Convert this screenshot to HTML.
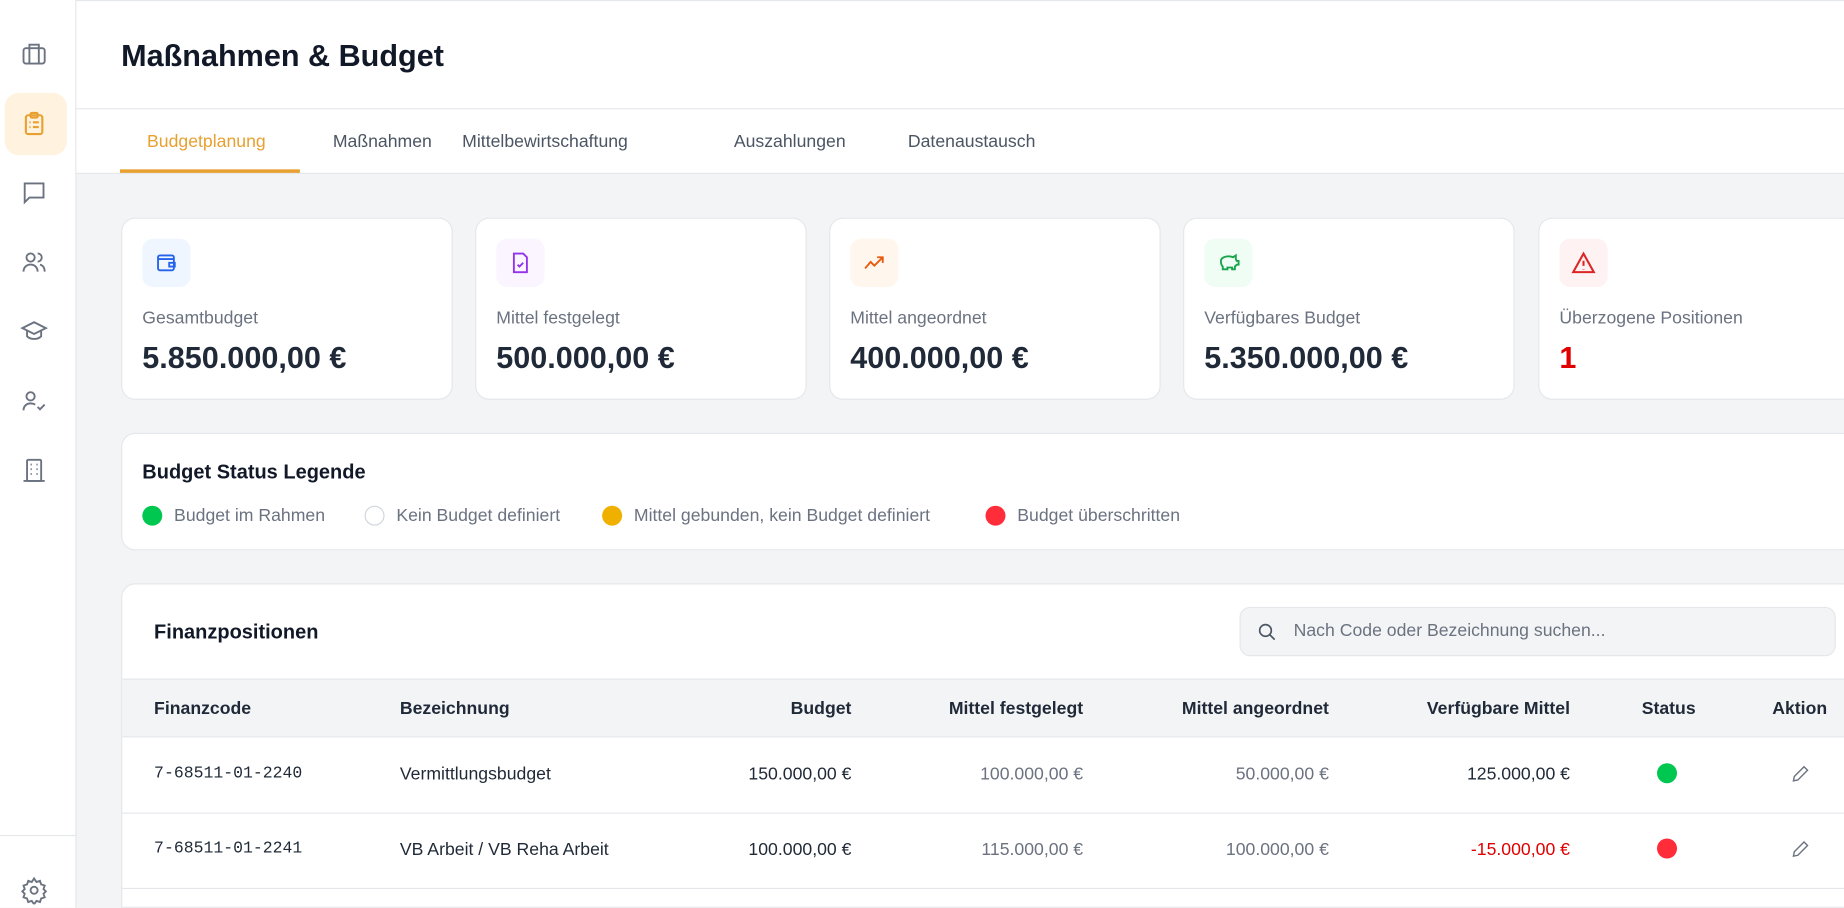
<!DOCTYPE html>
<html><head><meta charset="utf-8"><style>
*{box-sizing:border-box;margin:0;padding:0}
html,body{width:1844px;height:908px;overflow:hidden;background:#f3f4f6;font-family:"Liberation Sans",sans-serif}
#s{position:absolute;left:0;top:0;width:1568px;height:772px;transform:scale(1.17602);transform-origin:0 0;background:#f3f4f6;overflow:hidden}
.a{position:absolute}
.side{left:0;top:0;width:65px;height:772px;background:#fff;border-right:1px solid #e5e7eb}
.ic{position:absolute;left:17px;width:24px;height:24px}
.hdr{left:65px;top:0;width:1503px;height:147px;background:#fff;border-top:1px solid #e5e7eb}
.card{background:#fff;border:1px solid #e5e7eb;border-radius:12px}
.lab{font-size:15px;color:#6b7280}
.val{font-size:26px;font-weight:bold;color:#1f2937}
.ib{position:absolute;left:17px;top:17px;width:41px;height:41px;border-radius:9px}
.th{font-size:15px;font-weight:bold;color:#1f2937;position:absolute;top:594px}
.td{font-size:15px;position:absolute;color:#1f2937}
.r{text-align:right}
.g{color:#6b7280}
.dot{position:absolute;width:17px;height:17px;border-radius:50%}
</style></head><body><div id="s">
<div class="a side">
<svg class="ic" style="top:34px" viewBox="0 0 24 24" fill="none" stroke="#6b7280" stroke-width="1.6"><rect x="3" y="7" width="18" height="13" rx="2"/><path d="M8 7V4h8v3M8 7v13M16 7v13"/></svg>
<div class="a" style="left:4px;top:79px;width:53px;height:53px;background:#fff3e0;border-radius:12px"></div>
<svg class="ic" style="top:93px" viewBox="0 0 24 24" fill="none" stroke="#e8a030" stroke-width="1.8"><rect x="5" y="5" width="14" height="16" rx="2"/><rect x="9" y="3" width="6" height="4" rx="1"/><path d="M8 11h1M11 11h5M8 15h1M11 15h5"/></svg>
<svg class="ic" style="top:152px" viewBox="0 0 24 24" fill="none" stroke="#6b7280" stroke-width="1.6"><path d="M4 4h16v12H8l-4 4z"/></svg>
<svg class="ic" style="top:211px" viewBox="0 0 24 24" fill="none" stroke="#6b7280" stroke-width="1.6"><circle cx="9" cy="8" r="3.5"/><path d="M3 20c0-4 3-6 6-6s6 2 6 6M15 4.5a3.5 3.5 0 010 7M17 14c2 .5 4 2 4 6"/></svg>
<svg class="ic" style="top:270px" viewBox="0 0 24 24" fill="none" stroke="#6b7280" stroke-width="1.6"><path d="M2 9l10-5 10 5-10 5zM6 11v5c3 3 9 3 12 0v-5"/></svg>
<svg class="ic" style="top:329px" viewBox="0 0 24 24" fill="none" stroke="#6b7280" stroke-width="1.6"><circle cx="9" cy="8" r="3.5"/><path d="M3 20c0-4 3-6 6-6 2 0 3 .5 4 1M15 17l2 2 4-4"/></svg>
<svg class="ic" style="top:388px" viewBox="0 0 24 24" fill="none" stroke="#6b7280" stroke-width="1.6"><rect x="6" y="3" width="12" height="18" rx="1"/><path d="M3 21h18M9 7h1M14 7h1M9 11h1M14 11h1M9 15h1M14 15h1"/></svg>
<div class="a" style="left:0;top:710px;width:65px;border-top:1px solid #e5e7eb"></div>
<svg class="ic" style="top:745px" viewBox="0 0 24 24" fill="none" stroke="#6b7280" stroke-width="1.6"><circle cx="12" cy="12" r="3"/><path d="M12 2l2 3 3-1 1 3 3 1-1 3 2 2-2 2 1 3-3 1-1 3-3-1-2 3-2-3-3 1-1-3-3-1 1-3-2-2 2-2-1-3 3-1 1-3 3 1z"/></svg>
</div>
<div class="a hdr">
<div class="a" style="left:38px;top:31px;font-size:26px;font-weight:bold;color:#111827">Maßnahmen &amp; Budget</div>
<div class="a" style="left:0;top:91px;width:1503px;border-top:1px solid #e5e7eb"></div>
<div class="a" style="left:0;top:146px;width:1503px;border-top:1px solid #e5e7eb"></div>
<div class="a" style="left:60px;top:111px;font-size:15px;color:#e8a030">Budgetplanung</div>
<div class="a" style="left:37px;top:143px;width:153px;height:3px;background:#e8a030"></div>
<div class="a" style="left:218px;top:111px;font-size:15px;color:#4b5563">Maßnahmen</div>
<div class="a" style="left:328px;top:111px;font-size:15px;color:#4b5563">Mittelbewirtschaftung</div>
<div class="a" style="left:559px;top:111px;font-size:15px;color:#4b5563">Auszahlungen</div>
<div class="a" style="left:707px;top:111px;font-size:15px;color:#4b5563">Datenaustausch</div>
</div>

<div class="a card" style="left:103px;top:185px;width:282px;height:155px"><div class="ib" style="background:#eff6ff"><svg style="position:absolute;left:11px;top:11px" width="19" height="19" viewBox="0 0 24 24" fill="none" stroke="#2563eb" stroke-width="2"><rect x="3" y="4" width="17" height="16" rx="2"/><path d="M3 8h17M15 12h6v4h-6z"/></svg></div><div class="a lab" style="left:17px;top:76px">Gesamtbudget</div><div class="a val" style="left:17px;top:103px">5.850.000,00 €</div></div>
<div class="a card" style="left:404px;top:185px;width:282px;height:155px"><div class="ib" style="background:#faf5ff"><svg style="position:absolute;left:11px;top:11px" width="19" height="19" viewBox="0 0 24 24" fill="none" stroke="#9333ea" stroke-width="2"><path d="M5 2h10l4 4v16H5z"/><path d="M9 14l2 2 4-4"/></svg></div><div class="a lab" style="left:17px;top:76px">Mittel festgelegt</div><div class="a val" style="left:17px;top:103px">500.000,00 €</div></div>
<div class="a card" style="left:705px;top:185px;width:282px;height:155px"><div class="ib" style="background:#fff7ed"><svg style="position:absolute;left:10px;top:11px" width="21" height="19" viewBox="0 0 24 24" fill="none" stroke="#ea580c" stroke-width="2"><path d="M2 18l6-7 4 4 9-9M15 6h6v6"/></svg></div><div class="a lab" style="left:17px;top:76px">Mittel angeordnet</div><div class="a val" style="left:17px;top:103px">400.000,00 €</div></div>
<div class="a card" style="left:1006px;top:185px;width:282px;height:155px"><div class="ib" style="background:#f0fdf4"><svg style="position:absolute;left:10px;top:11px" width="21" height="19" viewBox="0 0 24 24" fill="none" stroke="#16a34a" stroke-width="2"><path d="M4 10c0-3 4-5 8-5 2 0 4 .5 5 1l3-2v4l1 2h2v4h-2l-2 2v3h-3v-2h-5v2H6v-3c-1-1-2-3-2-6z"/></svg></div><div class="a lab" style="left:17px;top:76px">Verfügbares Budget</div><div class="a val" style="left:17px;top:103px">5.350.000,00 €</div></div>
<div class="a card" style="left:1308px;top:185px;width:270px;height:155px"><div class="ib" style="background:#fef2f2"><svg style="position:absolute;left:10px;top:10px" width="21" height="21" viewBox="0 0 24 24" fill="none" stroke="#dc2626" stroke-width="2"><path d="M12 3L2 21h20z"/><path d="M12 10v5M12 18v.5"/></svg></div><div class="a lab" style="left:17px;top:76px">Überzogene Positionen</div><div class="a val" style="left:17px;top:103px;color:#e00000">1</div></div>

<div class="a card" style="left:103px;top:368px;width:1475px;height:100px">
<div class="a" style="left:17px;top:23px;font-size:17px;font-weight:bold;color:#111827">Budget Status Legende</div>
<div class="dot" style="left:17px;top:61px;background:#00c74f"></div><div class="a lab" style="left:44px;top:61px">Budget im Rahmen</div>
<div class="dot" style="left:206px;top:61px;border:1px solid #d1d5db;background:#fff"></div><div class="a lab" style="left:233px;top:61px">Kein Budget definiert</div>
<div class="dot" style="left:408px;top:61px;background:#f0b000"></div><div class="a lab" style="left:435px;top:61px">Mittel gebunden, kein Budget definiert</div>
<div class="dot" style="left:734px;top:61px;background:#ff2d3a"></div><div class="a lab" style="left:761px;top:61px">Budget überschritten</div>
</div>

<div class="a card" style="left:103px;top:496px;width:1475px;height:276px;border-bottom-left-radius:0;border-bottom-right-radius:0"></div>
<div class="a" style="left:131px;top:528px;font-size:17px;font-weight:bold;color:#111827">Finanzpositionen</div>
<div class="a" style="left:1054px;top:516px;width:507px;height:42px;background:#f3f4f6;border:1px solid #e5e7eb;border-radius:9px"><svg style="position:absolute;left:14px;top:12px" width="17" height="17" viewBox="0 0 24 24" fill="none" stroke="#4b5563" stroke-width="2"><circle cx="10" cy="10" r="7"/><path d="M15 15l6 6"/></svg><div class="a lab" style="left:45px;top:11px;color:#6b7280">Nach Code oder Bezeichnung suchen...</div></div>
<div class="a" style="left:104px;top:577px;width:1464px;height:50px;background:#f3f4f6;border-top:1px solid #e5e7eb;border-bottom:1px solid #e5e7eb"></div>
<div class="th" style="left:131px">Finanzcode</div>
<div class="th" style="left:340px">Bezeichnung</div>
<div class="th r" style="right:844px">Budget</div>
<div class="th r" style="right:647px">Mittel festgelegt</div>
<div class="th r" style="right:438px">Mittel angeordnet</div>
<div class="th r" style="right:233px">Verfügbare Mittel</div>
<div class="th" style="left:1396px">Status</div>
<div class="th" style="left:1507px">Aktion</div>

<div class="td" style="left:131px;top:650px;font-family:'Liberation Mono',monospace;font-size:14px">7-68511-01-2240</div>
<div class="td" style="left:340px;top:650px">Vermittlungsbudget</div>
<div class="td r" style="right:844px;top:650px">150.000,00 €</div>
<div class="td r g" style="right:647px;top:650px">100.000,00 €</div>
<div class="td r g" style="right:438px;top:650px">50.000,00 €</div>
<div class="td r" style="right:233px;top:650px">125.000,00 €</div>
<div class="dot" style="left:1409px;top:649px;background:#00c74f"></div>
<svg class="a" style="left:1522px;top:649px" width="18" height="18" viewBox="0 0 24 24" fill="none" stroke="#6b7280" stroke-width="1.6"><path d="M4 20l1-5L16 4l4 4L9 19z"/></svg>
<div class="a" style="left:104px;top:691px;width:1464px;border-top:1px solid #e5e7eb"></div>

<div class="td" style="left:131px;top:714px;font-family:'Liberation Mono',monospace;font-size:14px">7-68511-01-2241</div>
<div class="td" style="left:340px;top:714px">VB Arbeit / VB Reha Arbeit</div>
<div class="td r" style="right:844px;top:714px">100.000,00 €</div>
<div class="td r g" style="right:647px;top:714px">115.000,00 €</div>
<div class="td r g" style="right:438px;top:714px">100.000,00 €</div>
<div class="td r" style="right:233px;top:714px;color:#e00000">-15.000,00 €</div>
<div class="dot" style="left:1409px;top:713px;background:#ff2d3a"></div>
<svg class="a" style="left:1522px;top:713px" width="18" height="18" viewBox="0 0 24 24" fill="none" stroke="#6b7280" stroke-width="1.6"><path d="M4 20l1-5L16 4l4 4L9 19z"/></svg>
<div class="a" style="left:104px;top:755px;width:1464px;border-top:1px solid #e5e7eb"></div>
</div></body></html>
